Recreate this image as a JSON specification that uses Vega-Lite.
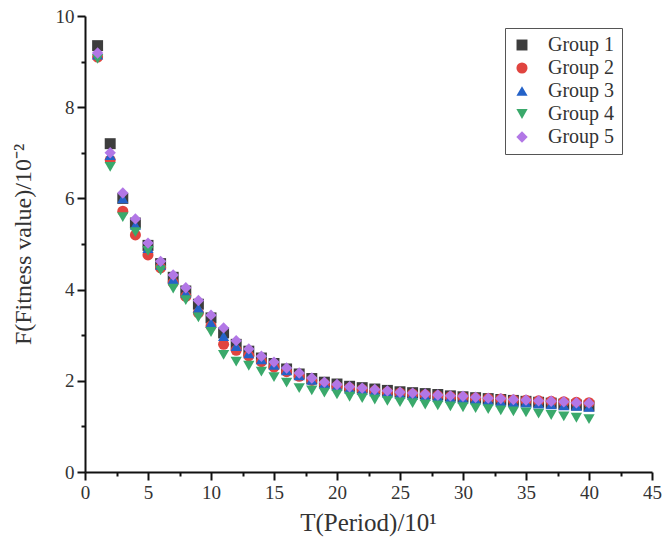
{
  "$schema": "https://vega.github.io/schema/vega-lite/v6.json",
  "autosize": {"type": "none"},
  "width": 567,
  "height": 456,
  "padding": {"left": 85, "top": 16, "right": 10, "bottom": 76},
  "background": "white",
  "config": {
    "view": {"stroke": null},
    "font": "Liberation Serif"
  },
  "datasets": {
    "rows": [
      {"t":1,"g":"Group 1","f":9.35},{"t":2,"g":"Group 1","f":7.2},{"t":3,"g":"Group 1","f":6.0},{"t":4,"g":"Group 1","f":5.46},{"t":5,"g":"Group 1","f":4.97},{"t":6,"g":"Group 1","f":4.57},{"t":7,"g":"Group 1","f":4.27},{"t":8,"g":"Group 1","f":3.97},{"t":9,"g":"Group 1","f":3.68},{"t":10,"g":"Group 1","f":3.38},
      {"t":11,"g":"Group 1","f":3.05},{"t":12,"g":"Group 1","f":2.8},{"t":13,"g":"Group 1","f":2.65},{"t":14,"g":"Group 1","f":2.5},{"t":15,"g":"Group 1","f":2.38},{"t":16,"g":"Group 1","f":2.26},{"t":17,"g":"Group 1","f":2.15},{"t":18,"g":"Group 1","f":2.05},{"t":19,"g":"Group 1","f":1.97},{"t":20,"g":"Group 1","f":1.93},
      {"t":21,"g":"Group 1","f":1.88},{"t":22,"g":"Group 1","f":1.85},{"t":23,"g":"Group 1","f":1.82},{"t":24,"g":"Group 1","f":1.79},{"t":25,"g":"Group 1","f":1.76},{"t":26,"g":"Group 1","f":1.74},{"t":27,"g":"Group 1","f":1.72},{"t":28,"g":"Group 1","f":1.70},{"t":29,"g":"Group 1","f":1.67},{"t":30,"g":"Group 1","f":1.65},
      {"t":31,"g":"Group 1","f":1.63},{"t":32,"g":"Group 1","f":1.61},{"t":33,"g":"Group 1","f":1.59},{"t":34,"g":"Group 1","f":1.57},{"t":35,"g":"Group 1","f":1.55},{"t":36,"g":"Group 1","f":1.53},{"t":37,"g":"Group 1","f":1.51},{"t":38,"g":"Group 1","f":1.49},{"t":39,"g":"Group 1","f":1.47},{"t":40,"g":"Group 1","f":1.45},

      {"t":1,"g":"Group 2","f":9.1},{"t":2,"g":"Group 2","f":6.84},{"t":3,"g":"Group 2","f":5.72},{"t":4,"g":"Group 2","f":5.2},{"t":5,"g":"Group 2","f":4.76},{"t":6,"g":"Group 2","f":4.48},{"t":7,"g":"Group 2","f":4.15},{"t":8,"g":"Group 2","f":3.85},{"t":9,"g":"Group 2","f":3.49},{"t":10,"g":"Group 2","f":3.2},
      {"t":11,"g":"Group 2","f":2.8},{"t":12,"g":"Group 2","f":2.67},{"t":13,"g":"Group 2","f":2.55},{"t":14,"g":"Group 2","f":2.42},{"t":15,"g":"Group 2","f":2.3},{"t":16,"g":"Group 2","f":2.2},{"t":17,"g":"Group 2","f":2.1},{"t":18,"g":"Group 2","f":2.01},{"t":19,"g":"Group 2","f":1.93},{"t":20,"g":"Group 2","f":1.88},
      {"t":21,"g":"Group 2","f":1.84},{"t":22,"g":"Group 2","f":1.81},{"t":23,"g":"Group 2","f":1.78},{"t":24,"g":"Group 2","f":1.75},{"t":25,"g":"Group 2","f":1.73},{"t":26,"g":"Group 2","f":1.71},{"t":27,"g":"Group 2","f":1.69},{"t":28,"g":"Group 2","f":1.67},{"t":29,"g":"Group 2","f":1.65},{"t":30,"g":"Group 2","f":1.64},
      {"t":31,"g":"Group 2","f":1.62},{"t":32,"g":"Group 2","f":1.61},{"t":33,"g":"Group 2","f":1.6},{"t":34,"g":"Group 2","f":1.58},{"t":35,"g":"Group 2","f":1.57},{"t":36,"g":"Group 2","f":1.56},{"t":37,"g":"Group 2","f":1.55},{"t":38,"g":"Group 2","f":1.54},{"t":39,"g":"Group 2","f":1.53},{"t":40,"g":"Group 2","f":1.52},

      {"t":1,"g":"Group 3","f":9.15},{"t":2,"g":"Group 3","f":6.95},{"t":3,"g":"Group 3","f":6.0},{"t":4,"g":"Group 3","f":5.42},{"t":5,"g":"Group 3","f":4.91},{"t":6,"g":"Group 3","f":4.54},{"t":7,"g":"Group 3","f":4.23},{"t":8,"g":"Group 3","f":3.93},{"t":9,"g":"Group 3","f":3.6},{"t":10,"g":"Group 3","f":3.27},
      {"t":11,"g":"Group 3","f":2.98},{"t":12,"g":"Group 3","f":2.76},{"t":13,"g":"Group 3","f":2.6},{"t":14,"g":"Group 3","f":2.47},{"t":15,"g":"Group 3","f":2.35},{"t":16,"g":"Group 3","f":2.23},{"t":17,"g":"Group 3","f":2.12},{"t":18,"g":"Group 3","f":2.02},{"t":19,"g":"Group 3","f":1.94},{"t":20,"g":"Group 3","f":1.88},
      {"t":21,"g":"Group 3","f":1.83},{"t":22,"g":"Group 3","f":1.8},{"t":23,"g":"Group 3","f":1.77},{"t":24,"g":"Group 3","f":1.74},{"t":25,"g":"Group 3","f":1.71},{"t":26,"g":"Group 3","f":1.69},{"t":27,"g":"Group 3","f":1.67},{"t":28,"g":"Group 3","f":1.65},{"t":29,"g":"Group 3","f":1.63},{"t":30,"g":"Group 3","f":1.61},
      {"t":31,"g":"Group 3","f":1.59},{"t":32,"g":"Group 3","f":1.57},{"t":33,"g":"Group 3","f":1.55},{"t":34,"g":"Group 3","f":1.53},{"t":35,"g":"Group 3","f":1.52},{"t":36,"g":"Group 3","f":1.5},{"t":37,"g":"Group 3","f":1.48},{"t":38,"g":"Group 3","f":1.46},{"t":39,"g":"Group 3","f":1.45},{"t":40,"g":"Group 3","f":1.43},

      {"t":1,"g":"Group 4","f":9.06},{"t":2,"g":"Group 4","f":6.69},{"t":3,"g":"Group 4","f":5.59},{"t":4,"g":"Group 4","f":5.26},{"t":5,"g":"Group 4","f":4.85},{"t":6,"g":"Group 4","f":4.42},{"t":7,"g":"Group 4","f":4.02},{"t":8,"g":"Group 4","f":3.77},{"t":9,"g":"Group 4","f":3.39},{"t":10,"g":"Group 4","f":3.07},
      {"t":11,"g":"Group 4","f":2.57},{"t":12,"g":"Group 4","f":2.42},{"t":13,"g":"Group 4","f":2.33},{"t":14,"g":"Group 4","f":2.2},{"t":15,"g":"Group 4","f":2.08},{"t":16,"g":"Group 4","f":1.96},{"t":17,"g":"Group 4","f":1.84},{"t":18,"g":"Group 4","f":1.79},{"t":19,"g":"Group 4","f":1.74},{"t":20,"g":"Group 4","f":1.7},
      {"t":21,"g":"Group 4","f":1.65},{"t":22,"g":"Group 4","f":1.62},{"t":23,"g":"Group 4","f":1.59},{"t":24,"g":"Group 4","f":1.56},{"t":25,"g":"Group 4","f":1.53},{"t":26,"g":"Group 4","f":1.51},{"t":27,"g":"Group 4","f":1.48},{"t":28,"g":"Group 4","f":1.46},{"t":29,"g":"Group 4","f":1.44},{"t":30,"g":"Group 4","f":1.42},
      {"t":31,"g":"Group 4","f":1.4},{"t":32,"g":"Group 4","f":1.38},{"t":33,"g":"Group 4","f":1.35},{"t":34,"g":"Group 4","f":1.33},{"t":35,"g":"Group 4","f":1.31},{"t":36,"g":"Group 4","f":1.28},{"t":37,"g":"Group 4","f":1.25},{"t":38,"g":"Group 4","f":1.22},{"t":39,"g":"Group 4","f":1.19},{"t":40,"g":"Group 4","f":1.16},

      {"t":1,"g":"Group 5","f":9.19},{"t":2,"g":"Group 5","f":7.0},{"t":3,"g":"Group 5","f":6.12},{"t":4,"g":"Group 5","f":5.55},{"t":5,"g":"Group 5","f":5.02},{"t":6,"g":"Group 5","f":4.62},{"t":7,"g":"Group 5","f":4.32},{"t":8,"g":"Group 5","f":4.04},{"t":9,"g":"Group 5","f":3.76},{"t":10,"g":"Group 5","f":3.44},
      {"t":11,"g":"Group 5","f":3.16},{"t":12,"g":"Group 5","f":2.88},{"t":13,"g":"Group 5","f":2.7},{"t":14,"g":"Group 5","f":2.54},{"t":15,"g":"Group 5","f":2.41},{"t":16,"g":"Group 5","f":2.28},{"t":17,"g":"Group 5","f":2.17},{"t":18,"g":"Group 5","f":2.06},{"t":19,"g":"Group 5","f":1.97},{"t":20,"g":"Group 5","f":1.92},
      {"t":21,"g":"Group 5","f":1.87},{"t":22,"g":"Group 5","f":1.84},{"t":23,"g":"Group 5","f":1.81},{"t":24,"g":"Group 5","f":1.78},{"t":25,"g":"Group 5","f":1.75},{"t":26,"g":"Group 5","f":1.73},{"t":27,"g":"Group 5","f":1.71},{"t":28,"g":"Group 5","f":1.69},{"t":29,"g":"Group 5","f":1.67},{"t":30,"g":"Group 5","f":1.66},
      {"t":31,"g":"Group 5","f":1.64},{"t":32,"g":"Group 5","f":1.62},{"t":33,"g":"Group 5","f":1.61},{"t":34,"g":"Group 5","f":1.59},{"t":35,"g":"Group 5","f":1.58},{"t":36,"g":"Group 5","f":1.56},{"t":37,"g":"Group 5","f":1.55},{"t":38,"g":"Group 5","f":1.54},{"t":39,"g":"Group 5","f":1.52},{"t":40,"g":"Group 5","f":1.51}
    ]
  },
  "data": {"name": "rows"},
  "mark": {"type": "point", "filled": true, "opacity": 1},
  "encoding": {
    "x": {
      "field": "t", "type": "quantitative",
      "scale": {"domain": [0, 45], "nice": false, "zero": false},
      "axis": {
        "values": [0,2.5,5,7.5,10,12.5,15,17.5,20,22.5,25,27.5,30,32.5,35,37.5,40,42.5,45],
        "labelExpr": "datum.value % 5 === 0 ? datum.label : ''",
        "grid": false, "ticks": true,
        "domainColor": "#111", "domainWidth": 2,
        "tickColor": "#111", "tickWidth": 2,
        "tickSize": {"condition": {"test": "datum.value % 5 === 0", "value": 8}, "value": 4},
        "labelFont": "Liberation Serif", "labelFontSize": 19, "labelColor": "#333",
        "labelPadding": 3, "labelFlush": false,
        "title": "T(Period)/10¹",
        "titleFont": "Liberation Serif", "titleFontSize": 25, "titleFontWeight": "normal", "titleColor": "#333",
        "titleX": 283, "titleY": 50, "titleBaseline": "middle", "titleAlign": "center"
      }
    },
    "y": {
      "field": "f", "type": "quantitative",
      "scale": {"domain": [0, 10], "nice": false},
      "axis": {
        "values": [0,1,2,3,4,5,6,7,8,9,10],
        "labelExpr": "datum.value % 2 === 0 ? datum.label : ''",
        "grid": false, "ticks": true,
        "domainColor": "#111", "domainWidth": 2,
        "tickColor": "#111", "tickWidth": 2,
        "tickSize": {"condition": {"test": "datum.value % 2 === 0", "value": 8}, "value": 4},
        "labelFont": "Liberation Serif", "labelFontSize": 19, "labelColor": "#333",
        "labelPadding": 3, "labelFlush": false,
        "title": "F(Fitness value)/10⁻²",
        "titleFont": "Liberation Serif", "titleFontSize": 24, "titleFontWeight": "normal", "titleColor": "#333",
        "titleX": -62, "titleY": 228, "titleAngle": -90, "titleBaseline": "middle", "titleAlign": "center"
      }
    },
    "color": {
      "field": "g", "type": "nominal",
      "scale": {"domain": ["Group 1","Group 2","Group 3","Group 4","Group 5"], "range": ["#3d3d3d","#e0443f","#2462c8","#3aa96b","#b277e6"]},
      "legend": {
        "title": null, "orient": "none", "legendX": 420, "legendY": 12,
        "strokeColor": "#555", "padding": 7, "fillColor": "white",
        "labelFont": "Liberation Serif", "labelFontSize": 20, "labelColor": "#333",
        "rowPadding": 3, "labelOffset": 16, "symbolOpacity": 1
      }
    },
    "shape": {
      "field": "g", "type": "nominal",
      "scale": {"domain": ["Group 1","Group 2","Group 3","Group 4","Group 5"], "range": ["square","circle","triangle-up","triangle-down","diamond"]}
    },
    "size": {
      "field": "g", "type": "nominal",
      "scale": {"domain": ["Group 1","Group 2","Group 3","Group 4","Group 5"], "range": [120, 130, 160, 175, 200]}
    }
  }
}
